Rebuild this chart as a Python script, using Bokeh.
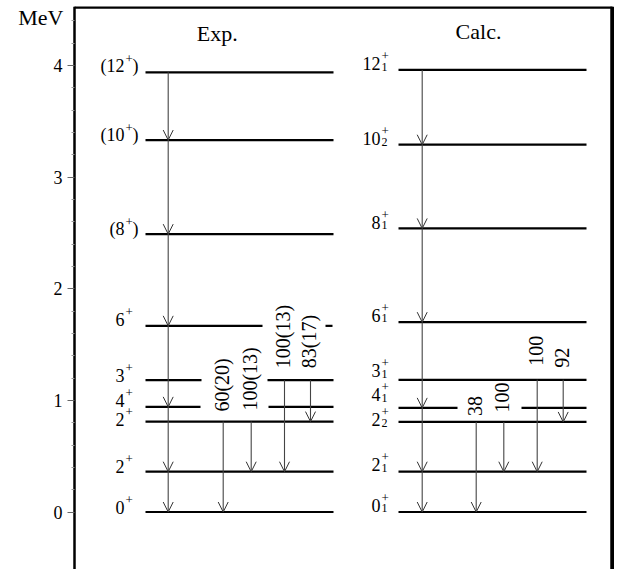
import numpy as np
from bokeh.plotting import figure
from bokeh.models import (Range1d, FixedTicker, Arrow, OpenHead,
                          ColumnDataSource, Label)
from bokeh.core.properties import value
from bokeh.embed import file_html
from bokeh.resources import INLINE

# ---------------- data ----------------
# level energies (MeV), lowest first
exp_energy = [0.0, 0.361, 0.810, 0.942, 1.181, 1.668, 2.490, 3.333, 3.940]
exp_spin = ["0+", "2+", "2+", "4+", "3+", "6+", "(8+)", "(10+)", "(12+)"]
calc_energy = [0.0, 0.361, 0.807, 0.933, 1.184, 1.701, 2.541, 3.291, 3.961]
calc_spin = ["0", "2", "2", "4", "3", "6", "8", "10", "12"]
calc_index = ["1", "1", "2", "1", "1", "1", "1", "2", "1"]
# transitions (from-level index, to-level index)
cascade = [(8, 7), (7, 6), (6, 5), (5, 3), (3, 1), (1, 0)]
branches = [(2, 0), (2, 1), (4, 1), (4, 2)]
exp_branch_ratio = ["60(20)", "100(13)", "100(13)", "83(17)"]
calc_branch_ratio = ["38", "100", "100", "92"]
y_major_ticks = [0, 1, 2, 3, 4]
y_minor_ticks = [0.2, 0.4, 0.6, 0.8, 1.2, 1.4, 1.6, 1.8, 2.2, 2.4, 2.6, 2.8,
                 3.2, 3.4, 3.6, 3.8, 4.2, 4.4]
titles = ["Exp.", "Calc."]
unit = "MeV"

# ---------------- layout (pixels relative to the energy axis / styles) ----------------
FONT = "'Liberation Serif'"
PX_PER_MEV = 111.6
TOP = 6                 # frame top (px from page top)
ZERO_Y = 511.5          # page y of E = 0
PAGE_H = 569
X_LEFT, X_RIGHT = -74, 540
BOX_RIGHT = 538
cols = {
    "exp": dict(x0=71, x1=259, casc=93.7, br=[148.7, 176.7, 210, 236],
                lab=50, lab_gap=[10, 11, 12, 12], title_x=142.7,
                segs={3: [(71, 126), (194, 259)], 4: [(71, 127), (193, 259)],
                      5: [(71, 188), (251, 258)]},
                loff=[-5, -5, -2, -6, -5, -6, -5, -5, -6]),
    "calc": dict(x0=324, x1=512, casc=347.7, br=[401.7, 429.3, 462.7, 488.7],
                 lab=306, lab_gap=[6, 9.5, 14, 12], title_x=404,
                 segs={3: [(324, 383), (447, 512)]},
                 loff=[-7, -7, -2, -13, -9, -7, -6, -6, -6]),
}
TITLE_Y = [4.29, 4.305]
UNIT_Y = 4.43

y_top = (ZERO_Y - TOP) / PX_PER_MEV
y_bot = -(PAGE_H - ZERO_Y) / PX_PER_MEV

p = figure(frame_width=X_RIGHT - X_LEFT, frame_height=PAGE_H - TOP,
           x_range=Range1d(X_LEFT, X_RIGHT), y_range=Range1d(y_bot, y_top),
           output_backend="svg", toolbar_location=None, x_axis_location=None,
           min_border_left=0, min_border_right=0, min_border_top=TOP,
           min_border_bottom=0, outline_line_color=None)
p.grid.visible = False

ax = p.yaxis[0]
ax.fixed_location = 0
ax.ticker = FixedTicker(ticks=y_major_ticks, minor_ticks=y_minor_ticks)
ax.axis_line_width = 2.5
ax.axis_line_color = "black"
ax.major_tick_out = 7
ax.major_tick_in = 0
ax.major_tick_line_color = "#666666"
ax.minor_tick_out = 3
ax.minor_tick_in = 0
ax.minor_tick_line_color = "#999999"
ax.major_label_text_font = FONT
ax.major_label_text_font_size = "18px"
ax.major_label_text_color = "black"
ax.major_label_standoff = 5

# top and right border of the box
p.segment(x0=[0, BOX_RIGHT], y0=[y_top, y_top], x1=[BOX_RIGHT, BOX_RIGHT],
          y1=[y_top, y_bot], line_color="black", line_width=4.5)


def draw_column(key, energy, ratios):
    c = cols[key]
    x0s, x1s, ys = [], [], []
    for i, e in enumerate(energy):
        for (a, b) in c["segs"].get(i, [(c["x0"], c["x1"])]):
            x0s.append(a); x1s.append(b); ys.append(e)
    p.segment(x0=x0s, y0=ys, x1=x1s, y1=ys, line_color="black", line_width=2.2)

    xs, xe, ys_, ye = [], [], [], []
    for (a, b) in cascade:
        xs.append(c["casc"]); xe.append(c["casc"])
        ys_.append(energy[a]); ye.append(energy[b])
    for k, (a, b) in enumerate(branches):
        xs.append(c["br"][k]); xe.append(c["br"][k])
        ys_.append(energy[a]); ye.append(energy[b])
    src = ColumnDataSource(dict(x_start=xs, y_start=ys_, x_end=xe, y_end=ye))
    p.add_layout(Arrow(end=OpenHead(size=10, line_color="#333333", line_width=1),
                       x_start="x_start", y_start="y_start", x_end="x_end",
                       y_end="y_end", source=src, line_color="#444444",
                       line_width=1.1))

    p.text(x=c["br"], y=[energy[a] for (a, b) in branches], text=ratios,
           angle=np.pi / 2, text_align="left", text_baseline="middle",
           x_offset=-1.5, y_offset=[-g for g in c["lab_gap"]],
           text_font=value(FONT), text_font_size="20px", text_color="black")


draw_column("exp", exp_energy, exp_branch_ratio)
draw_column("calc", calc_energy, calc_branch_ratio)

# experimental level labels: base + superscript "+" + optional ")"
ce = cols["exp"]
base = [s.split("+")[0] for s in exp_spin]
tail = [s.split("+")[1] for s in exp_spin]
p.text(x=[ce["lab"]] * len(base), y=exp_energy, text=base, text_align="right",
       text_baseline="alphabetic", y_offset=ce["loff"], text_font=value(FONT),
       text_font_size="18px", text_color="black")
p.text(x=[ce["lab"] + 1] * len(base), y=exp_energy, text=["+"] * len(base),
       text_align="left", text_baseline="alphabetic",
       y_offset=[o - 7.5 for o in ce["loff"]], text_font=value(FONT),
       text_font_size="13px", text_color="black")
p.text(x=[ce["lab"] + 8] * len(base), y=exp_energy, text=tail, text_align="left",
       text_baseline="alphabetic", y_offset=ce["loff"], text_font=value(FONT),
       text_font_size="18px", text_color="black")

# calculated level labels: base + stacked sup "+" / sub index
cc = cols["calc"]
p.text(x=[cc["lab"]] * len(calc_spin), y=calc_energy, text=calc_spin,
       text_align="right", text_baseline="alphabetic", y_offset=cc["loff"],
       text_font=value(FONT), text_font_size="18px", text_color="black")
p.text(x=[cc["lab"] + 1] * len(calc_spin), y=calc_energy,
       text=["+"] * len(calc_spin), text_align="left", text_baseline="alphabetic",
       y_offset=[o - 7.5 for o in cc["loff"]], text_font=value(FONT),
       text_font_size="13px", text_color="black")
p.text(x=[cc["lab"] + 1] * len(calc_spin), y=calc_energy, text=calc_index,
       text_align="left", text_baseline="alphabetic",
       y_offset=[o + 3 for o in cc["loff"]], text_font=value(FONT),
       text_font_size="12px", text_color="black")

# titles and unit
for t, xc, yb in zip(titles, [ce["title_x"], cc["title_x"]], TITLE_Y):
    p.add_layout(Label(x=xc, y=yb, text=t, text_align="center",
                       text_baseline="alphabetic", text_font=FONT,
                       text_font_size="22px", text_color="black"))
p.add_layout(Label(x=-11, y=UNIT_Y, text=unit, text_align="right",
                   text_baseline="alphabetic", text_font=FONT,
                   text_font_size="22px", text_color="black"))

open("out.html", "w").write(file_html(p, INLINE))
